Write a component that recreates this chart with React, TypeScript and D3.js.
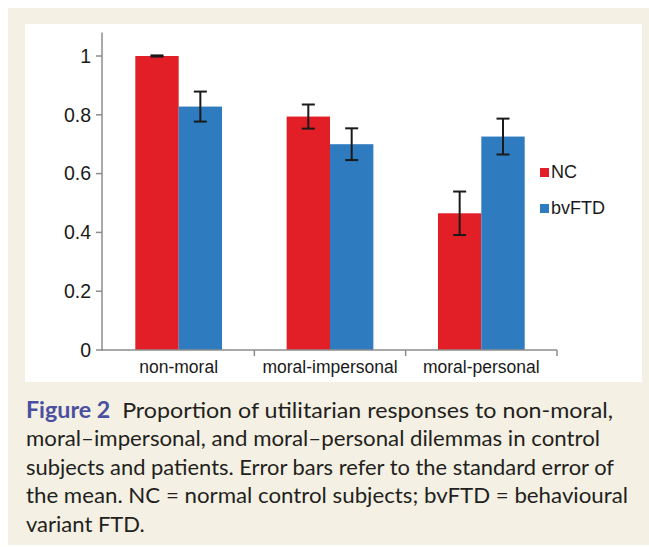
import React from 'react';
import * as d3 from 'd3';

const categories = ['non-moral', 'moral-impersonal', 'moral-personal'];
const groups = ['NC', 'bvFTD'];
const ncValues = [1.0, 0.794, 0.465];
const ncErrors = [0.002, 0.041, 0.074];
const ftdValues = [0.828, 0.7, 0.726];
const ftdErrors = [0.051, 0.054, 0.061];
const yTicks = [0, 0.2, 0.4, 0.6, 0.8, 1];
const captionLines = [
  'Proportion of utilitarian responses to non-moral,',
  'moral\u2013impersonal, and moral\u2013personal dilemmas in control',
  'subjects and patients. Error bars refer to the standard error of',
  'the mean. NC = normal control subjects; bvFTD = behavioural',
  'variant FTD.',
];
// right edge of each caption line in the figure
const captionEnds = [613, 600, 614, 628, 0];

const colors: Record<string, string> = { NC: '#e21f26', bvFTD: '#2e7bbf' };

export default function App() {
  const width = 649;
  const height = 547;

  const x0 = d3.scaleBand().domain(categories).range([103, 557]).paddingInner(0).paddingOuter(0);
  const x1 = d3.scaleBand().domain(groups).range([0, x0.bandwidth() * 0.573]);
  const y = d3.scaleLinear().domain([0, 1]).range([350, 56]);

  const series = [
    { key: 'NC', values: ncValues, errors: ncErrors },
    { key: 'bvFTD', values: ftdValues, errors: ftdErrors },
  ];

  const groupOffset = (x0.bandwidth() - x1.range()[1]) / 2;

  return (
    <div style={{ position: 'absolute', left: 0, top: 0 }}>
      <svg width={width} height={height} style={{ display: 'block' }}>
        <rect x={8} y={8} width={641} height={537} fill="#f4f0e3" />
        <rect x={25} y={24} width={617} height={358} fill="#ffffff" />

        {/* bars */}
        {series.map(s =>
          categories.map((c, i) => (
            <rect
              key={s.key + c}
              x={(x0(c) || 0) + groupOffset + (x1(s.key) || 0)}
              y={y(s.values[i])}
              width={x1.bandwidth()}
              height={y(0) - y(s.values[i])}
              fill={colors[s.key]}
            />
          ))
        )}

        {/* error bars */}
        {series.map(s =>
          categories.map((c, i) => {
            const cx = (x0(c) || 0) + groupOffset + (x1(s.key) || 0) + x1.bandwidth() / 2;
            const top = y(s.values[i] + s.errors[i]);
            const bot = y(s.values[i] - s.errors[i]);
            return (
              <g key={'e' + s.key + c} stroke="#1a1a1a" strokeWidth={2}>
                <line x1={cx} x2={cx} y1={top} y2={bot} />
                <line x1={cx - 6.5} x2={cx + 6.5} y1={top} y2={top} />
                <line x1={cx - 6.5} x2={cx + 6.5} y1={bot} y2={bot} />
              </g>
            );
          })
        )}

        {/* axes */}
        <g stroke="#8c8c8c" strokeWidth={1.5}>
          <line x1={102} x2={102} y1={y(0) + 1} y2={y(1.08)} />
          {yTicks.map(t => (
            <line key={t} x1={96} x2={102} y1={y(t)} y2={y(t)} />
          ))}
          <line x1={102} x2={557} y1={y(0)} y2={y(0)} />
          {categories.map(c => (
            <line key={c} x1={(x0(c) || 0) + x0.bandwidth()} x2={(x0(c) || 0) + x0.bandwidth()} y1={y(0)} y2={y(0) + 6} />
          ))}
        </g>
        <g fontFamily="'Liberation Sans', Arial, sans-serif" fill="#1a1a1a">
          {yTicks.map(t => (
            <text key={t} x={91} y={y(t)} dy="0.35em" textAnchor="end" fontSize={19.5}>
              {d3.format('')(t)}
            </text>
          ))}
          {categories.map(c => (
            <text key={c} x={(x0(c) || 0) + x0.bandwidth() / 2} y={373} textAnchor="middle" fontSize={17.5}>
              {c}
            </text>
          ))}
        </g>

        {/* legend */}
        <g fontFamily="'Liberation Sans', Arial, sans-serif" fontSize={18} fill="#1a1a1a">
          {groups.map((g, i) => (
            <g key={g} transform={`translate(540,${168 + i * 36})`}>
              <rect x={0} y={0} width={9} height={9} fill={colors[g]} />
              <text x={11} y={10}>{g}</text>
            </g>
          ))}
        </g>

        {/* caption */}
        <g fontFamily="Lato, 'Open Sans', sans-serif" fontSize={22} fill="#231f20">
          {captionLines.map((line, i) => (
            <text
              key={i}
              x={26}
              y={417.5 + i * 28.6}
              textLength={captionEnds[i] ? captionEnds[i] - 26 : undefined}
              lengthAdjust="spacingAndGlyphs"
            >
              {i === 0 ? (
                <>
                  <tspan fill="#4a4fa0" fontWeight="bold">Figure 2</tspan>
                  <tspan>{'\u00a0\u00a0' + line}</tspan>
                </>
              ) : (
                line
              )}
            </text>
          ))}
        </g>
      </svg>
    </div>
  );
}
